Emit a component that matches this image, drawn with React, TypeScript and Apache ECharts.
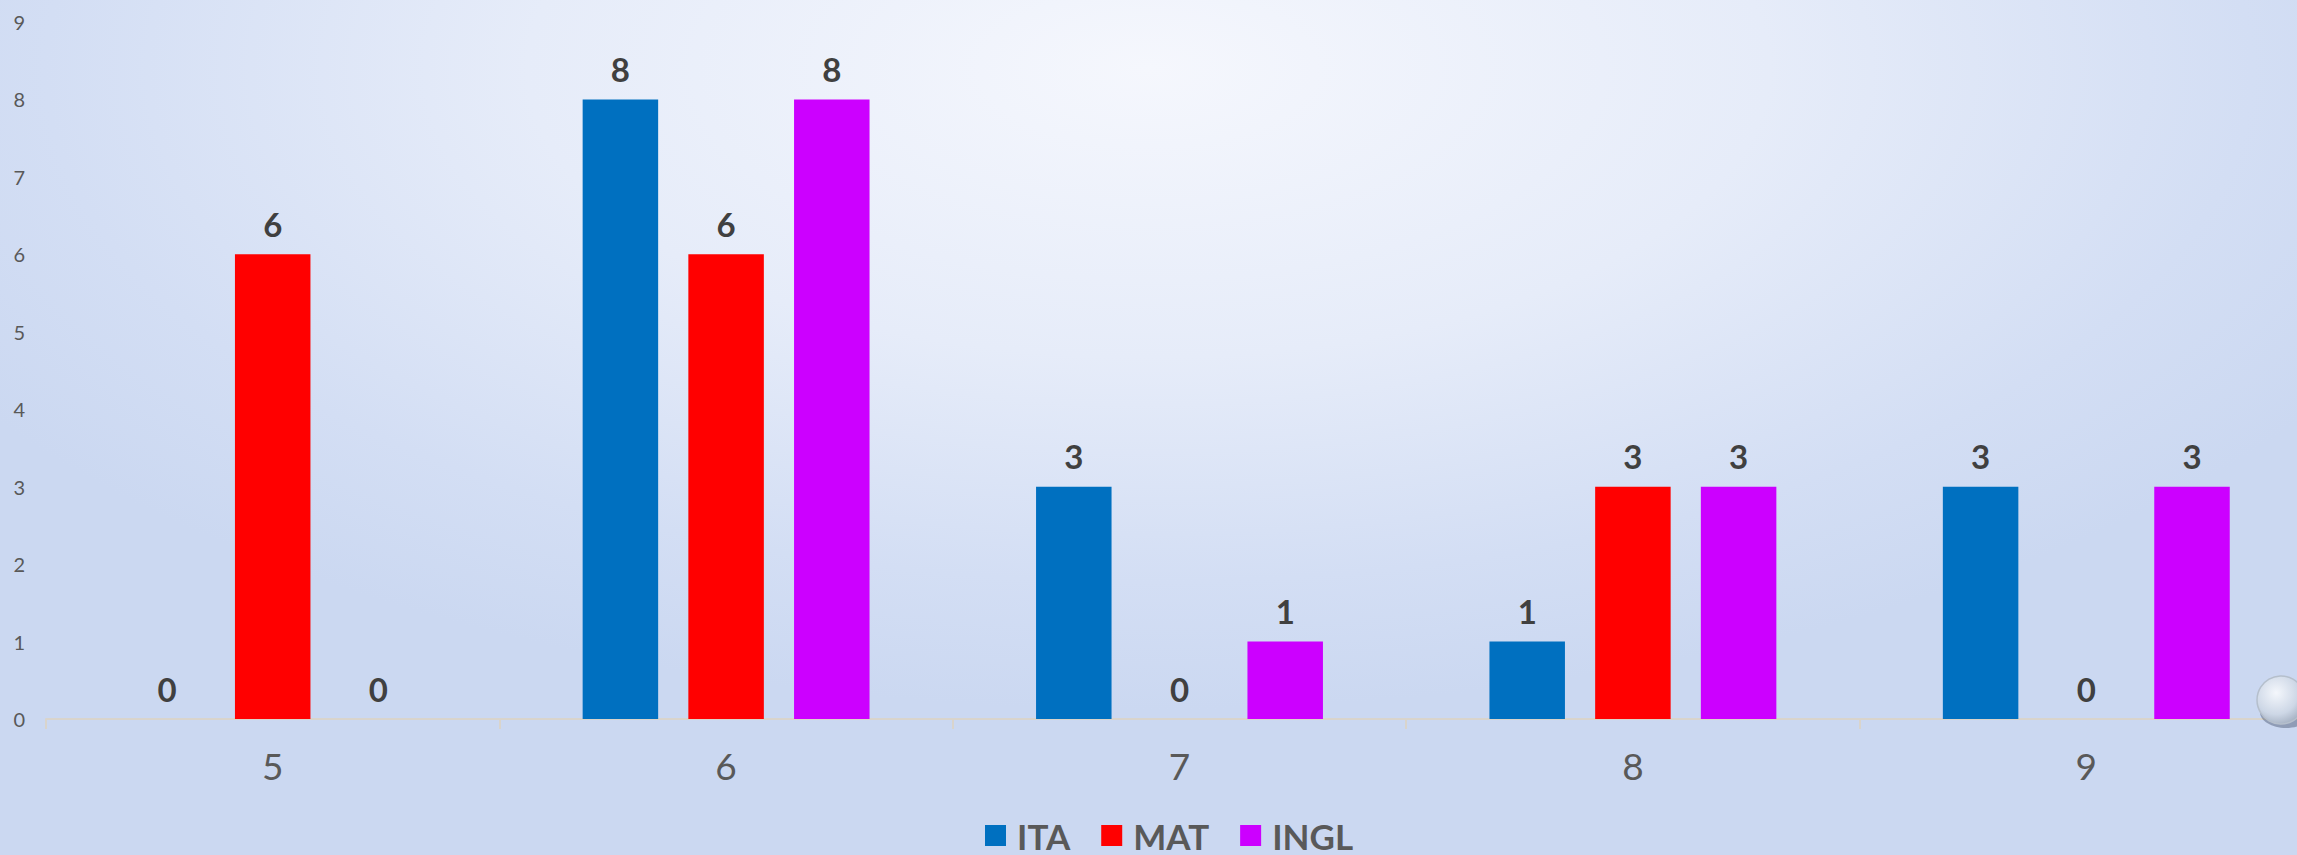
import React, { useEffect, useRef } from "react";
import * as echarts from "echarts";

const categories = ["5", "6", "7", "8", "9"];
const seriesNames = ["ITA", "MAT", "INGL"];
const itaValues = [0, 8, 3, 1, 3];
const matValues = [6, 6, 0, 3, 0];
const inglValues = [0, 8, 1, 3, 3];
const seriesColors = ["#0070C0", "#FF0000", "#CC00FF"];
const yTicks = { min: 0, max: 9, interval: 1 };

const FONT = "Lato, 'Noto Sans', sans-serif";

export default function App() {
  const ref = useRef<HTMLDivElement>(null);

  useEffect(() => {
    if (!ref.current) return;
    const chart = echarts.init(ref.current, undefined, { renderer: "svg" });
    const valuesList = [itaValues, matValues, inglValues];
    const series = seriesNames.map((name, i) => ({
      name,
      type: "bar",
      data: valuesList[i],
      barWidth: 75.5,
      barGap: "40%",
      itemStyle: { color: seriesColors[i] },
      label: {
        show: true,
        position: "top",
        distance: 14,
        color: "#404040",
        fontFamily: FONT,
        fontWeight: "bold",
        fontSize: 33,
      },
    }));

    chart.setOption({
      animation: false,
      backgroundColor: "transparent",
      textStyle: { fontFamily: FONT },
      grid: { left: 46, top: 22, width: 2267, height: 697, containLabel: false },
      legend: {
        data: seriesNames,
        left: 985,
        top: 818,
        padding: 0,
        icon: "rect",
        itemWidth: 21,
        itemHeight: 21,
        itemGap: 31,
        textStyle: {
          color: "#595959",
          fontFamily: FONT,
          fontWeight: "bold",
          fontSize: 35,
          lineHeight: 30,
          padding: [0, 0, 0, 6],
        },
      },
      xAxis: {
        type: "category",
        data: categories,
        axisLine: { show: true, lineStyle: { color: "#d9d4cc", width: 2 } },
        axisTick: { show: true, length: 10, lineStyle: { color: "#d9d4cc", width: 2 } },
        axisLabel: {
          color: "#595959",
          fontFamily: FONT,
          fontSize: 37,
          margin: 28,
        },
        splitLine: { show: false },
      },
      yAxis: {
        type: "value",
        min: yTicks.min,
        max: yTicks.max,
        interval: yTicks.interval,
        axisLine: { show: false },
        axisTick: { show: false },
        splitLine: { show: false },
        axisLabel: {
          color: "#595959",
          fontFamily: FONT,
          fontSize: 20,
          margin: 21,
        },
      },
      graphic: [
        {
          type: "ellipse",
          shape: { cx: 2286, cy: 712, rx: 26, ry: 16 },
          style: { fill: "rgba(70,85,110,0.45)" },
          z: 10,
        },
        {
          type: "circle",
          shape: { cx: 2281, cy: 700, r: 24 },
          style: {
            fill: {
              type: "radial",
              x: 0.4,
              y: 0.35,
              r: 0.75,
              colorStops: [
                { offset: 0, color: "#f4f7fc" },
                { offset: 0.6, color: "#cdd7e6" },
                { offset: 1, color: "#9aa6b8" },
              ],
            },
            stroke: "#b5bfcc",
            lineWidth: 1.5,
          },
          z: 11,
        },
      ],
      series,
    });

    return () => chart.dispose();
  }, []);

  return (
    <div
      style={{
        position: "absolute",
        left: 0,
        top: 0,
        width: 2297,
        height: 855,
        overflow: "hidden",
        background:
          "radial-gradient(ellipse 60% 75% at 50% 8%, #f5f7fd 0%, #e6ecf9 45%, #d3def4 80%, #cbd8f1 100%)",
      }}
    >
      <div ref={ref} style={{ width: 2330, height: 855 }} />
    </div>
  );
}
